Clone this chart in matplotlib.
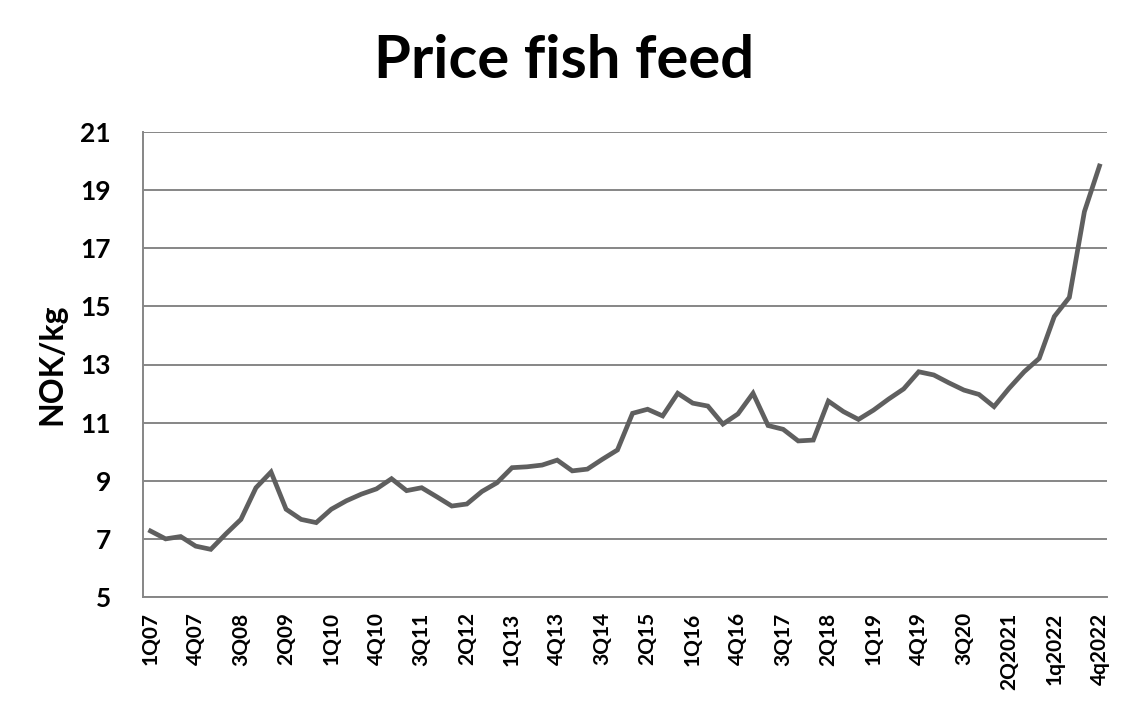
import matplotlib
matplotlib.use("Agg")
import matplotlib.pyplot as plt
import numpy as np

plt.rcParams['font.family'] = ['Lato', 'DejaVu Sans']

tick_labels = ["1Q07", "4Q07", "3Q08", "2Q09", "1Q10", "4Q10", "3Q11", "2Q12",
               "1Q13", "4Q13", "3Q14", "2Q15", "1Q16", "4Q16", "3Q17", "2Q18",
               "1Q19", "4Q19", "3Q20", "2Q2021", "1q2022", "4q2022"]

price = [7.27, 7.00, 7.08, 6.75, 6.64, 7.17, 7.67, 8.76, 9.30, 8.02,
         7.67, 7.56, 8.02, 8.31, 8.54, 8.72, 9.07, 8.66, 8.76, 8.45,
         8.13, 8.20, 8.63, 8.93, 9.45, 9.48, 9.54, 9.71, 9.34, 9.40,
         9.74, 10.06, 11.32, 11.46, 11.23, 12.01, 11.67, 11.57, 10.95, 11.30,
         12.01, 10.90, 10.77, 10.37, 10.40, 11.74, 11.38, 11.11, 11.43, 11.81,
         12.16, 12.75, 12.64, 12.37, 12.12, 11.97, 11.55, 12.18, 12.75, 13.21,
         14.65, 15.31, 18.26, 19.83]

fig = plt.figure(figsize=(11.29, 7.07), dpi=100)
ax = fig.add_axes([143/1129, 1-597/707, (1107-143)/1129, (597-132)/707])

x = np.arange(len(price))
ax.plot(x, price, color='#5f5f5f', lw=3.4, solid_joinstyle='miter', zorder=3)

ax.set_xlim(-0.5, len(price) - 0.5)
ax.set_ylim(5, 21)
ax.set_yticks(range(5, 22, 2))
ax.yaxis.grid(True, color='#868686', lw=1.4)
ax.set_axisbelow(True)

ax.set_xticks(x[::3])
ax.set_xticklabels(tick_labels, rotation=90, fontsize=15, fontweight='bold',
                   va='top', ha='center')
for lab in ax.get_yticklabels():
    lab.set_fontweight('bold')
ax.tick_params(axis='y', labelsize=19, length=0, pad=23)
ax.tick_params(axis='x', length=0, pad=11)

for s in ['top', 'right']:
    ax.spines[s].set_visible(False)
for s in ['left', 'bottom']:
    ax.spines[s].set_color('#868686')
    ax.spines[s].set_linewidth(1.4)

ax.set_ylabel('NOK/kg', fontsize=23, fontweight='bold', labelpad=10)
fig.text(0.5, 1 - 78/707, 'Price fish feed', ha='center', va='baseline',
         fontsize=43, fontweight='bold')

fig.savefig('out.png', dpi=100)
